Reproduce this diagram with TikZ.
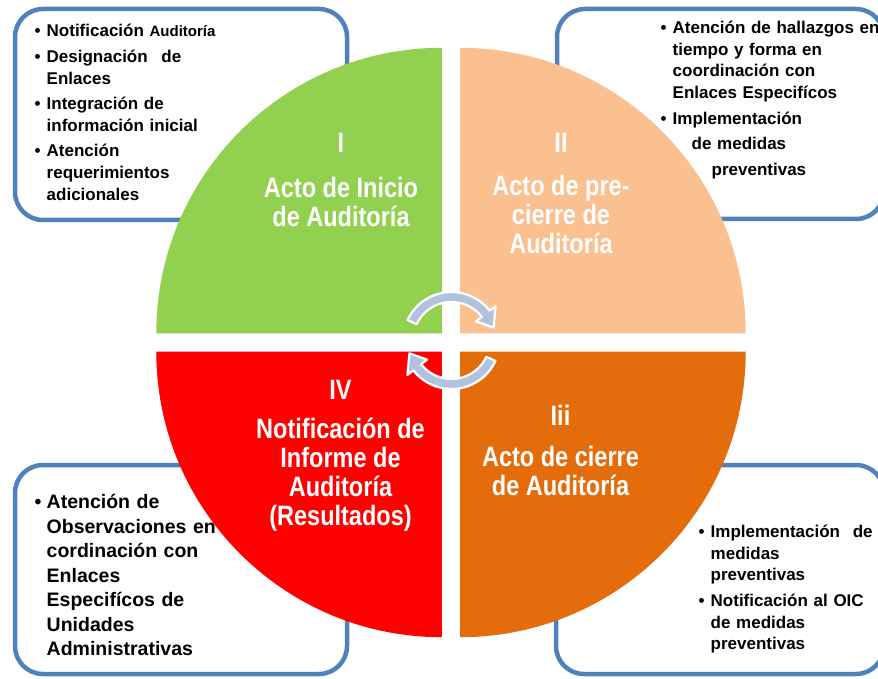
\documentclass[tikz,border=0pt]{standalone}
\usepackage{fontspec}
\setmainfont{Liberation Sans}
\newfontfamily\fasefont{Liberation Sans}[FakeStretch=0.84]
\usetikzlibrary{calc}

\definecolor{faseuno}{HTML}{92D050}
\definecolor{fasedos}{HTML}{FAC090}
\definecolor{fasetres}{HTML}{E46C0A}
\definecolor{fasecuatro}{HTML}{FF0000}
\definecolor{marco}{HTML}{4F81BD}
\definecolor{flecha}{HTML}{B0C2DE}

% vineta con sangria colgante; \nl corta la linea sin cerrar el parrafo
\newcommand{\itm}[1]{\hangindent=12pt\hangafter=1\noindent\makebox[12pt][l]{•}\rule{0pt}{16pt}#1\par}
\newcommand{\nl}{\newline}

\tikzset{
  caja/.style={draw=marco, line width=4.5pt, rounded corners=28pt, fill=white},
  lista/.style={anchor=north west, inner sep=0pt, text width=330pt,
    font=\bfseries\fontsize{17}{#1}\selectfont},
  fase/.style={anchor=north, inner sep=0pt, align=center, text=white,
    font=\fasefont\bfseries\fontsize{28}{29}\selectfont},
  flechita/.style={fill=flecha, draw=white, line width=2.2pt, line join=round}
}

\begin{document}
\begin{tikzpicture}[x=1pt, y=1pt]

    \clip (0, 0) rectangle (878, 678);

    % cajas
    \draw[caja] (15, 669) rectangle (347, 458);
    \draw[caja] (557, 669) rectangle (884, 459);
    \draw[caja] (15, 213) rectangle (347, 4);
    \draw[caja] (556, 213) rectangle (884, 4);

    \node[lista=22pt] (inicio) at (34.5, 657.3) {%
      \itm{Notificación {\fontsize{15}{22}\selectfont Auditoría}}\vspace{3.5pt}
      \itm{Designación\hspace{8pt} de\nl Enlaces}\vspace{3pt}
      \itm{Integración de\nl información inicial}\vspace{3pt}
      \itm{Atención\nl requerimientos\nl adicionales}};

    \node[lista=21.7pt] (precierre) at (660.5, 660.7) {%
      \itm{Atención de hallazgos en\nl tiempo y forma en\nl coordinación con\nl Enlaces Especifícos}\vspace{4pt}
      \itm{Implementación\vspace{3.8pt}\nl\hspace*{19pt}de medidas\vspace{3.8pt}\nl\hspace*{39pt}preventivas}};

    \node[lista=24.5pt, font=\bfseries\fontsize{19.5}{24.5}\selectfont] (informe) at (34.5, 185.7) {%
      \itm{Atención de\nl Observaciones en\nl cordinación con\nl Enlaces\nl Especifícos de\nl Unidades\nl Administrativas}};

    \node[lista=21.5pt] (cierre) at (698.5, 156.7) {%
      \itm{Implementación\hspace{7pt} de\nl medidas\nl preventivas}\vspace{4.5pt}
      \itm{Notificación al OIC\nl de medidas\nl preventivas}};

    % cuadrantes
    \fill[faseuno] (441.8, 344.7) -- ++(-285.5, 0) arc[start angle=180, end angle=90, radius=285.5] -- cycle;
    \fill[fasedos] (460.2, 344.7) -- ++(0, 285.5) arc[start angle=90, end angle=0, radius=285.5] -- cycle;
    \fill[fasetres] (460.2, 326.3) -- ++(285.5, 0) arc[start angle=0, end angle=-90, radius=285.5] -- cycle;
    \fill[fasecuatro] (441.8, 326.3) -- ++(0, -285.5) arc[start angle=-90, end angle=-180, radius=285.5] -- cycle;

    \node[fase] (f1) at (341, 544.7) {I\\[16pt]Acto de Inicio\\de Auditoría};
    \node[fase] (f2) at (561, 544.7) {II\\[14pt]Acto de pre-\\cierre de\\Auditoría};
    \node[fase] (f3) at (560.5, 273) {Iii\\[12pt]Acto de cierre\\de Auditoría};
    \node[fase] (f4) at (340.5, 298) {IV\\[10pt]Notificación de\\Informe de\\Auditoría\\(Resultados)};

    % flechas del ciclo
    \coordinate (C) at (451.5, 337.5);
    \filldraw[flechita] ($(C)+(155:48.5)$) arc[start angle=155, end angle=38, radius=48.5]
      -- ($(C)+(38:56)$) -- ($(C)+(17:44)$) -- ($(C)+(38:31)$) -- ($(C)+(38:38.5)$)
      arc[start angle=38, end angle=155, radius=38.5] -- cycle;
    \filldraw[flechita] ($(C)+(-25:48.5)$) arc[start angle=-25, end angle=-142, radius=48.5]
      -- ($(C)+(-142:56)$) -- ($(C)+(-163:44)$) -- ($(C)+(-142:31)$) -- ($(C)+(-142:38.5)$)
      arc[start angle=-142, end angle=-25, radius=38.5] -- cycle;

\end{tikzpicture}
\end{document}
